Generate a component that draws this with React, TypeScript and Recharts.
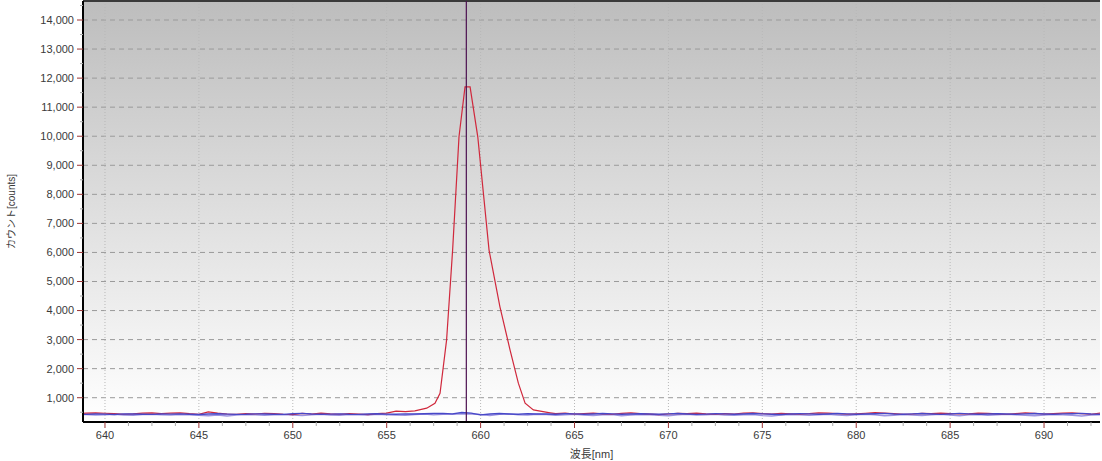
import { CartesianGrid, Line, LineChart, ReferenceLine, XAxis, YAxis } from 'recharts';

// wavelength grid [nm], 0.5 nm step
const wavelengths = [
  638.5, 639, 639.5, 640, 640.5, 641, 641.5, 642, 642.5, 643,
  643.5, 644, 644.5, 645, 645.5, 646, 646.5, 647, 647.5, 648,
  648.5, 649, 649.5, 650, 650.5, 651, 651.5, 652, 652.5, 653,
  653.5, 654, 654.5, 655, 655.5, 656, 656.5, 657, 657.5, 658,
  658.5, 659, 659.5, 660, 660.5, 661, 661.5, 662, 662.5, 663,
  663.5, 664, 664.5, 665, 665.5, 666, 666.5, 667, 667.5, 668,
  668.5, 669, 669.5, 670, 670.5, 671, 671.5, 672, 672.5, 673,
  673.5, 674, 674.5, 675, 675.5, 676, 676.5, 677, 677.5, 678,
  678.5, 679, 679.5, 680, 680.5, 681, 681.5, 682, 682.5, 683,
  683.5, 684, 684.5, 685, 685.5, 686, 686.5, 687, 687.5, 688,
  688.5, 689, 689.5, 690, 690.5, 691, 691.5, 692, 692.5, 693, 693.5,
];

// red baseline (peak region comes from redPeak* below)
const redCounts: (number | null)[] = [
  450, 470, 475, 465, 450, 430, 445, 470, 480, 455,
  470, 480, 450, 430, 510, 470, 440, 430, 455, 440,
  465, 450, 430, 420, 460, 440, 470, 445, 430, 455,
  440, 420, 450, 470, 540, 520, 545, null, null, null,
  null, null, null, null, null, null, null, null, null, null,
  null, 450, 470, 440, 455, 470, 445, 430, 460, 475,
  450, 435, 420, 440, 460, 455, 470, 445, 430, 455,
  440, 470, 480, 455, 440, 460, 445, 430, 450, 480,
  470, 455, 430, 445, 465, 490, 470, 450, 430, 440,
  460, 450, 470, 455, 440, 445, 470, 460, 445, 430,
  455, 475, 460, 440, 455, 470, 480, 450, 430, 470, 455,
];

const redPeakWavelengths = [
  657.13, 657.57, 657.84, 658.19, 658.51, 658.85, 659.17, 659.44,
  659.85, 660.45, 661.03, 661.57, 662.01, 662.37, 662.81, 663.7,
];
const redPeakCounts = [
  640, 810, 1150, 2990, 6080, 9980, 11700, 11700,
  9980, 6080, 4130, 2640, 1500, 810, 580, 480,
];

const blueCounts = [
  430, 425, 440, 435, 420, 445, 440, 430, 425, 440,
  435, 445, 430, 420, 440, 450, 435, 425, 430, 445,
  440, 430, 425, 450, 460, 440, 430, 435, 445, 430,
  425, 440, 450, 435, 430, 445, 440, 450, 455, 460,
  445, 490, 470, 410, 440, 455, 440, 430, 450, 440,
  440, 430, 450, 445, 430, 440, 455, 445, 430, 440,
  450, 440, 430, 445, 455, 440, 425, 435, 450, 445,
  430, 440, 455, 445, 430, 420, 440, 450, 445, 430,
  440, 455, 445, 430, 440, 450, 460, 440, 430, 445,
  455, 440, 425, 440, 460, 445, 430, 440, 450, 440,
  430, 445, 455, 440, 430, 445, 450, 460, 440, 430, 445,
];

const lavenderCounts = [
  410, 420, 400, 415, 430, 405, 395, 420, 430, 410,
  400, 420, 415, 395, 380, 405, 370, 400, 420, 410,
  395, 415, 420, 400, 385, 410, 425, 405, 395, 420,
  410, 400, 425, 415, 400, 395, 420, 440, 410, 425,
  430, 450, 440, 420, 390, 430, 445, 410, 400, 430,
  420, 395, 410, 425, 400, 390, 415, 420, 380, 405,
  420, 410, 395, 380, 410, 425, 400, 415, 430, 405,
  395, 410, 420, 385, 370, 400, 420, 410, 395, 415,
  425, 400, 390, 410, 430, 415, 380, 395, 420, 405,
  390, 410, 425, 400, 380, 415, 420, 395, 410, 425,
  410, 395, 380, 405, 420, 410, 395, 370, 400, 415, 405,
];

const cursorWavelength = 659.24;

const xMajorTicks = [640, 645, 650, 655, 660, 665, 670, 675, 680, 685, 690];
const yMajorTicks = [
  1000, 2000, 3000, 4000, 5000, 6000, 7000, 8000, 9000, 10000, 11000, 12000, 13000, 14000,
];

const X_DOMAIN: [number, number] = [638.83, 692.98];
const Y_DOMAIN: [number, number] = [164, 14654];

const xTicks = xMajorTicks
  .flatMap((m) => [m, m + 1.25, m + 2.5, m + 3.75])
  .filter((t) => t <= X_DOMAIN[1]);
const yTicks = yMajorTicks.flatMap((m) => [m - 500, m]).concat([14500]);

const toPoints = (counts: (number | null)[]) =>
  wavelengths
    .map((x, i) => ({ x, y: counts[i] }))
    .filter((p) => p.y !== null);

const redData = [
  ...toPoints(redCounts),
  ...redPeakWavelengths.map((x, i) => ({ x, y: redPeakCounts[i] })),
].sort((a, b) => a.x - b.x);
const blueData = toPoints(blueCounts);
const lavenderData = toPoints(lavenderCounts);

const FONT = "'Liberation Sans', Arial, 'Noto Sans CJK JP', sans-serif";
const TICK_SIZE = 5;
const TICK_MARGIN = 4;
const TICK_RED = '#9a3434';

function XTick({ x, y, payload }: any) {
  const major = xMajorTicks.includes(payload.value);
  const axisY = y - TICK_MARGIN - TICK_SIZE;
  return (
    <g>
      <line
        x1={x}
        x2={x}
        y1={axisY}
        y2={axisY + (major ? 6 : 4)}
        stroke={major ? TICK_RED : '#aaaaaa'}
      />
      {major && (
        <text x={x} y={y} dy="0.71em" textAnchor="middle" fontSize={11} fill="#3a3a3a" fontFamily={FONT}>
          {payload.value}
        </text>
      )}
    </g>
  );
}

function YTick({ x, y, payload }: any) {
  const major = payload.value % 1000 === 0;
  const axisX = x + TICK_MARGIN + TICK_SIZE;
  return (
    <g>
      <line
        x1={axisX - (major ? 6 : 3)}
        x2={axisX}
        y1={y}
        y2={y}
        stroke={major ? TICK_RED : '#aaaaaa'}
      />
      {major && (
        <text x={x} y={y} dy="0.355em" textAnchor="end" fontSize={11} fill="#3a3a3a" fontFamily={FONT}>
          {payload.value.toLocaleString('en-US')}
        </text>
      )}
    </g>
  );
}

function YTitle({ viewBox }: any) {
  const cx = 11;
  const cy = viewBox.y + viewBox.height / 2;
  return (
    <text
      x={cx}
      y={cy}
      dy="0.355em"
      transform={`rotate(-90, ${cx}, ${cy})`}
      textAnchor="middle"
      fontSize={10}
      fill="#3a3a3a"
      fontFamily={FONT}
    >
      カウント[counts]
    </text>
  );
}

export default function App() {
  return (
    <div style={{ position: 'absolute', left: 0, top: 0, background: '#fff' }}>
      <svg width={0} height={0} style={{ position: 'absolute' }}>
        <defs>
          <linearGradient id="plotBg" x1="0" y1="0" x2="0" y2="1">
            <stop offset="0%" stopColor="#bdbdbd" />
            <stop offset="55%" stopColor="#e2e2e2" />
            <stop offset="100%" stopColor="#ffffff" />
          </linearGradient>
        </defs>
      </svg>
      <LineChart width={1102} height={461} margin={{ top: 1, right: 2, bottom: 0, left: 0 }}>
        <CartesianGrid
          vertical={false}
          horizontalValues={yMajorTicks}
          stroke="#9a9a9a"
          strokeDasharray="5 4"
          fill="url(#plotBg)"
          fillOpacity={1}
        />
        {xMajorTicks.map((t) => (
          <ReferenceLine key={t} x={t} stroke="#b8b8b8" strokeDasharray="1 2" />
        ))}
        <XAxis
          dataKey="x"
          type="number"
          domain={X_DOMAIN}
          allowDataOverflow
          ticks={xTicks}
          interval={0}
          height={39}
          tickSize={TICK_SIZE}
          tickMargin={TICK_MARGIN}
          tickLine={false}
          tick={<XTick />}
          axisLine={{ stroke: '#000', strokeWidth: 2 }}
          label={{
            value: '波長[nm]',
            position: 'insideBottom',
            offset: 3,
            style: { fontSize: 11, fill: '#3a3a3a', fontFamily: FONT },
          }}
        />
        <YAxis
          dataKey="y"
          type="number"
          domain={Y_DOMAIN}
          allowDataOverflow
          ticks={yTicks}
          interval={0}
          width={83}
          tickSize={TICK_SIZE}
          tickMargin={TICK_MARGIN}
          tickLine={false}
          tick={<YTick />}
          axisLine={{ stroke: '#000', strokeWidth: 2 }}
          label={<YTitle />}
        />
        <ReferenceLine y={Y_DOMAIN[1]} stroke="#3a3a3a" strokeWidth={2} />
        <Line
          data={lavenderData}
          dataKey="y"
          stroke="#9c94e0"
          strokeWidth={1.4}
          dot={false}
          isAnimationActive={false}
        />
        <Line
          data={redData}
          dataKey="y"
          stroke="#d0283c"
          strokeWidth={1.2}
          dot={false}
          isAnimationActive={false}
        />
        <Line
          data={blueData}
          dataKey="y"
          stroke="#4848c8"
          strokeWidth={1.4}
          dot={false}
          isAnimationActive={false}
        />
        <ReferenceLine x={cursorWavelength} stroke="#4b1050" strokeWidth={1.2} />
      </LineChart>
    </div>
  );
}
